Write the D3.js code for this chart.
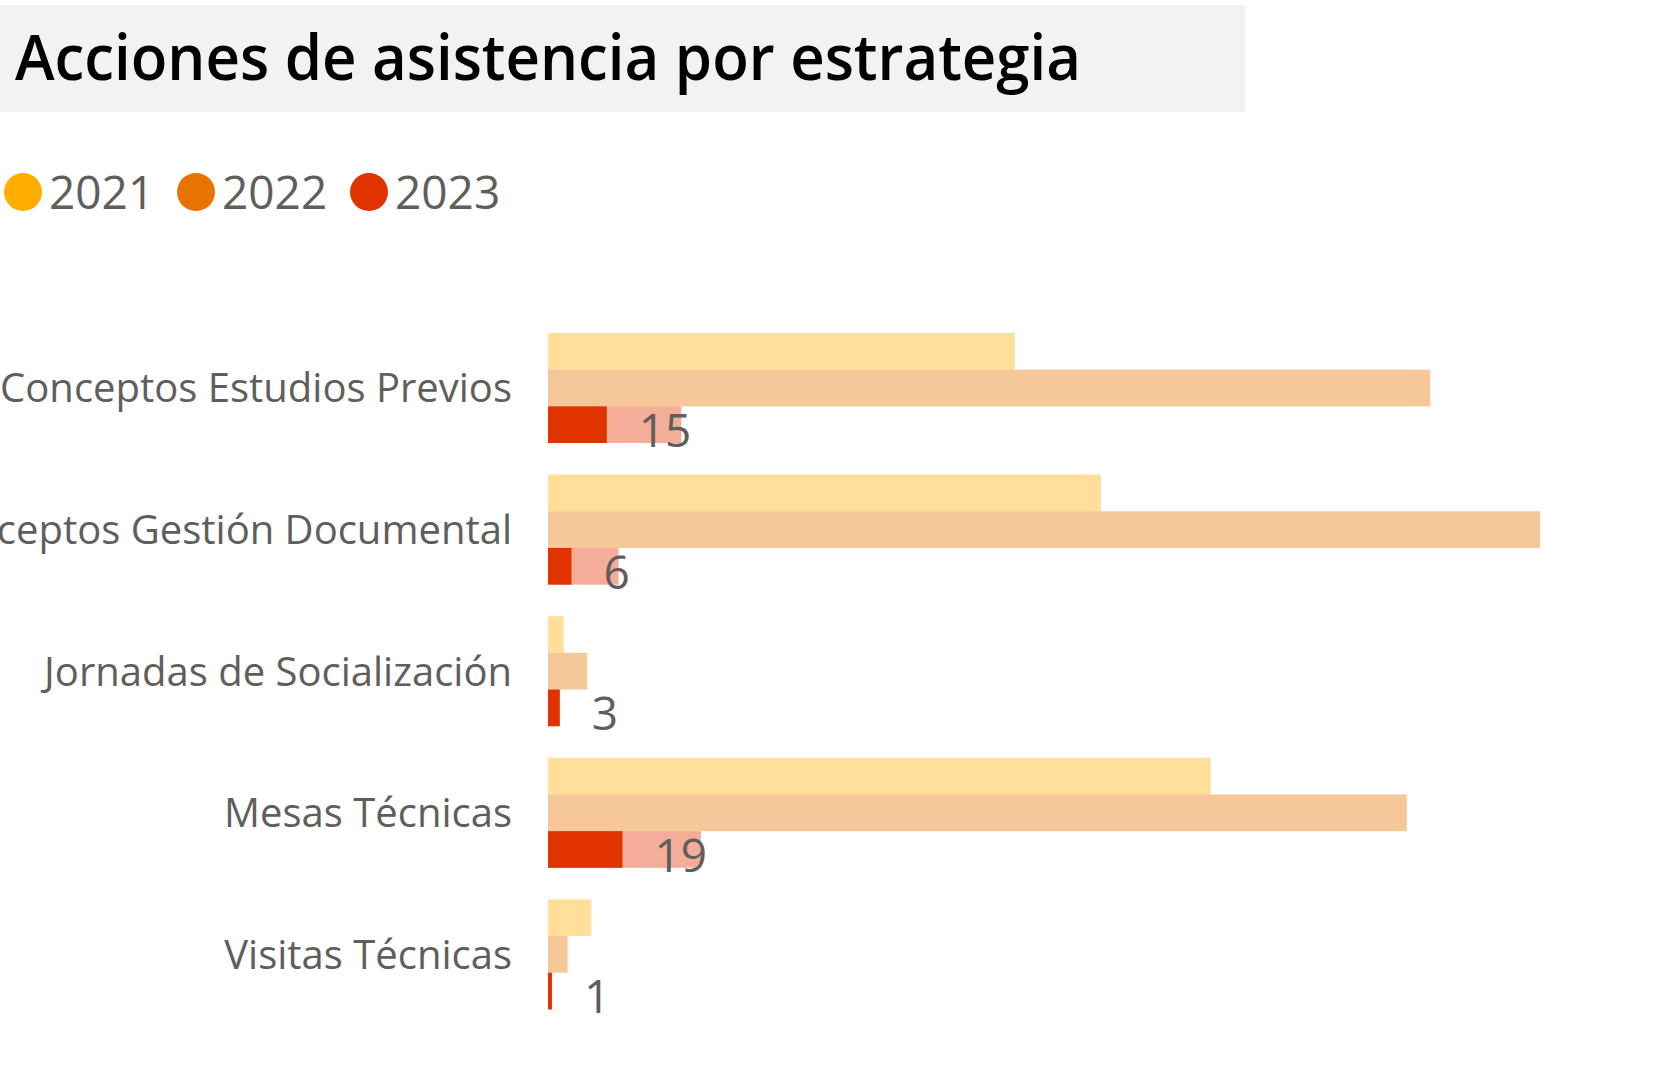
<!DOCTYPE html>
<html>
<head>
<meta charset="utf-8">
<script src="https://cdn.jsdelivr.net/npm/d3@7"></script>
<style>
  body { margin: 0; background: #fff; }
  text { font-family: "Segoe UI", "Open Sans", sans-serif; }
</style>
</head>
<body>
<div id="chart-container"></div>
<script>
const width = 1664;
const height = 1073;

const categories = [
  "Conceptos Estudios Previos",
  "Conceptos Gestión Documental",
  "Jornadas de Socialización",
  "Mesas Técnicas",
  "Visitas Técnicas",
];
const years = ["2021", "2022", "2023"];
const yearColors = ["#FFAE00", "#E97300", "#E03300"];

// full totals per year (drawn faded)
const values2021 = [119, 141, 4, 169, 11];
const values2022 = [225, 253, 10, 219, 5];
const values2023 = [34, 18, 3, 39, 1];
// highlighted part (cross-filter selection)
const highlight2021 = [0, 0, 0, 0, 0];
const highlight2022 = [0, 0, 0, 0, 0];
const highlight2023 = [15, 6, 3, 19, 1];

const totals = [values2021, values2022, values2023];
const highlights = [highlight2021, highlight2022, highlight2023];

const rows = [];
categories.forEach((c, i) => {
  years.forEach((yr, j) => {
    rows.push({ cat: c, year: yr, color: yearColors[j], total: totals[j][i], hl: highlights[j][i] });
  });
});

const svg = d3
  .select("#chart-container")
  .append("svg")
  .attr("width", width)
  .attr("height", height);

svg.append("rect").attr("width", width).attr("height", height).attr("fill", "#fff");

// title band
svg.append("rect")
  .attr("x", 0).attr("y", 5)
  .attr("width", 1245).attr("height", 107)
  .attr("fill", "#F2F2F2");

svg.append("text")
  .attr("x", 15).attr("y", 80)
  .attr("textLength", 1066)
  .attr("lengthAdjust", "spacingAndGlyphs")
  .style("font-size", "64px")
  .style("font-weight", 600)
  .attr("fill", "#000")
  .text("Acciones de asistencia por estrategia");

// legend
const legend = svg.append("g").attr("transform", "translate(0,192)");
const legendX = d3.scalePoint().domain(years).range([23, 369]);
const legendItem = legend.selectAll("g").data(years).enter().append("g")
  .attr("transform", (d) => "translate(" + legendX(d) + ",0)");
legendItem.append("circle")
  .attr("r", 19)
  .attr("fill", (d, i) => yearColors[i]);
legendItem.append("text")
  .attr("x", 26).attr("y", 17)
  .style("font-size", "46px")
  .attr("fill", "#605E5C")
  .text((d) => d);

// scales
const x = d3.scaleLinear().domain([0, 280]).range([548, 1646]);
const y = d3.scaleBand().domain(categories).range([333, 1009.4]).paddingInner(0.223).paddingOuter(0);
const ySub = d3.scaleBand().domain(years).range([0, y.bandwidth()]);

// category axis
const yAxis = svg.append("g")
  .attr("transform", "translate(548,0)")
  .call(d3.axisLeft(y).tickSize(0).tickPadding(36));
yAxis.select(".domain").remove();
yAxis.selectAll("text")
  .style("font-size", "40px")
  .style("font-family", "'Segoe UI', 'Open Sans', sans-serif")
  .attr("fill", "#605E5C")
  .attr("dy", "0.36em");

// bars
const bars = svg.append("g");
bars.selectAll("rect.total")
  .data(rows).enter().append("rect")
  .attr("class", "total")
  .attr("x", x(0))
  .attr("y", (d) => y(d.cat) + ySub(d.year))
  .attr("width", (d) => x(d.total) - x(0))
  .attr("height", ySub.bandwidth())
  .attr("fill", (d) => d.color)
  .attr("fill-opacity", 0.4);

bars.selectAll("rect.hl")
  .data(rows.filter((d) => d.hl > 0)).enter().append("rect")
  .attr("class", "hl")
  .attr("x", x(0))
  .attr("y", (d) => y(d.cat) + ySub(d.year))
  .attr("width", (d) => x(d.hl) - x(0))
  .attr("height", ySub.bandwidth())
  .attr("fill", (d) => d.color);

// data labels (2023 only)
svg.append("g").selectAll("text")
  .data(rows.filter((d) => d.year === "2023")).enter().append("text")
  .attr("x", (d) => x(d.hl) + 32)
  .attr("y", (d) => y(d.cat) + ySub(d.year) + ySub.bandwidth() + 4)
  .style("font-size", "46px")
  .attr("fill", "#605E5C")
  .text((d) => d.hl);
</script>
</body>
</html>
